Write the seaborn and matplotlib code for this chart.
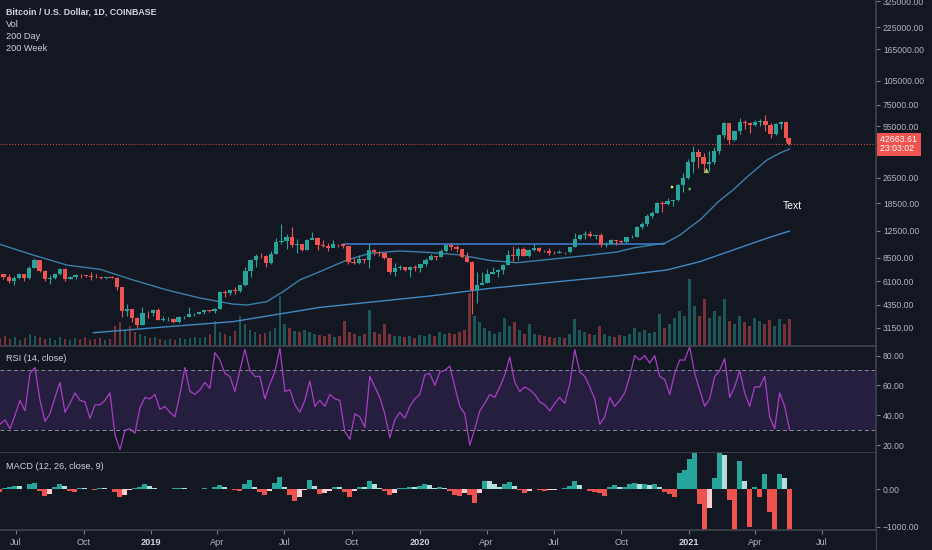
import numpy as np
import pandas as pd
import matplotlib
matplotlib.use("Agg")
import matplotlib.pyplot as plt
import matplotlib.dates as mdates
import matplotlib.transforms as mtransforms
from matplotlib.lines import Line2D
from matplotlib.ticker import FixedLocator, FuncFormatter, NullLocator, NullFormatter
import seaborn as sns

# ---- weekly BTC/USD candles (week close, high, low) ----
first_open = 7650
close_2018 = [6770, 6450, 6150, 6380, 6760, 6350, 7400, 8200, 7030, 6310, 6400, 6710, 7300, 6250, 6500,
              6700, 6620, 6600, 6470, 6450, 6350, 6450, 6370, 5580, 4000, 4100, 3600, 3250, 3900, 3860]
high_2018 = [7700, 6800, 6750, 6550, 6820, 6780, 7570, 8500, 8250, 7150, 6620, 6800, 7400, 7400, 6600,
             6800, 6800, 6700, 6900, 6750, 6500, 6500, 6550, 6450, 5620, 4400, 4100, 3650, 4200, 4000]
low_2018 = [6650, 6300, 5900, 5780, 6330, 6100, 6330, 7350, 6950, 6120, 5880, 6300, 6700, 6150, 6250,
            6300, 6400, 6450, 6200, 6400, 6300, 6300, 6350, 5350, 3650, 3700, 3400, 3150, 3250, 3600]

close_2019 = [4050, 3520, 3540, 3550, 3410, 3660, 3680, 3800, 3820, 3930, 4030, 4000, 4100, 5200, 5150,
              5350, 5280, 5750, 7000, 8200, 8750, 8730, 7950, 8990, 10700, 10800, 11400, 10200, 10300,
              9500, 11000, 11300, 10200, 10100, 9750, 10400, 10300, 10000, 8050, 7850, 8300, 8200, 9550,
              9200, 9050, 8500, 6900, 7400, 7500, 7100, 7500, 7400]
high_2019 = [4100, 4180, 3700, 3650, 3600, 3700, 3700, 4200, 3880, 3950, 4060, 4050, 4150, 5300, 5400,
             5400, 5650, 5800, 7450, 8350, 8950, 9100, 8850, 9300, 11200, 13800, 12000, 13200, 11100,
             10200, 11100, 12300, 11400, 10900, 10500, 10900, 10400, 10300, 10000, 8450, 8800, 8400, 10400,
             9600, 9400, 9100, 8500, 7850, 7700, 7400, 7550, 7700]
low_2019 = [3700, 3500, 3460, 3450, 3350, 3380, 3580, 3680, 3700, 3800, 3850, 3950, 3900, 4100, 4900,
            5000, 5050, 5200, 5700, 6500, 7500, 8500, 7450, 7800, 8950, 10350, 9600, 9900, 9100,
            9400, 9500, 11100, 9500, 9900, 9300, 10000, 9900, 9800, 7750, 7800, 7800, 7900, 7350,
            8900, 8700, 8400, 6800, 6550, 7100, 7000, 6450, 7050]

close_2020 = [7750, 8200, 8700, 8600, 9350, 10150, 9900, 9700, 8550, 8050, 5350, 5800, 5900, 6780, 6900,
              7120, 7700, 8900, 8750, 9700, 8720, 9450, 9750, 9350, 9300, 9120, 9070, 9250, 9200, 9930,
              11100, 11700, 11900, 11650, 11700, 10250, 10330, 10950, 10800, 10700, 11400, 11500, 13100,
              13750, 15500, 16000, 18400, 18200, 19100, 19250, 23900, 26300]
high_2020 = [7800, 8450, 9000, 8750, 9600, 10200, 10500, 10200, 9700, 9200, 8150, 6900, 6950, 7200, 7450,
             7300, 7750, 9450, 10000, 9950, 9850, 9600, 10400, 9950, 9550, 9800, 9300, 9450, 9250, 9950,
             12100, 11900, 12500, 12400, 11750, 12050, 10600, 11100, 10950, 10950, 11450, 11750, 13350,
             14100, 15950, 16500, 18800, 18950, 19900, 19400, 24200, 28400]
low_2020 = [6900, 7600, 8250, 8250, 8550, 9200, 9450, 9250, 8450, 8000, 3850, 4450, 5850, 5900, 6800,
            6500, 6800, 7650, 8100, 8200, 8700, 8650, 9300, 9200, 9200, 8900, 8950, 9100, 9000, 9150,
            9900, 10950, 11150, 11350, 11100, 9900, 9900, 10300, 10150, 10350, 10550, 11250, 11400,
            12850, 13300, 15000, 16000, 16250, 18100, 17700, 19100, 21800]

close_2021 = [33000, 38200, 35800, 32300, 33100, 38900, 48600, 57400, 45200, 51200, 59000, 57400, 55800,
              58200, 59800, 56200, 49100, 56600, 58300, 46400, 42663.61]
high_2021 = [34800, 41950, 40100, 37850, 38600, 40900, 49700, 58350, 57500, 52600, 61700, 60600, 58400,
             60100, 61300, 64900, 57500, 58000, 59500, 59600, 46600]
low_2021 = [26000, 28200, 30400, 28800, 29200, 32300, 37400, 47000, 43000, 44950, 49300, 53300, 50300,
            55500, 55500, 51500, 47000, 48800, 53000, 43800, 42100]

candle_dates = list(pd.date_range("2018-06-07", "2021-05-13", freq="7D")) + [pd.Timestamp("2021-05-17 12:00")]
closes = close_2018 + close_2019 + close_2020 + close_2021
highs = high_2018 + high_2019 + high_2020 + high_2021
lows = low_2018 + low_2019 + low_2020 + low_2021

# ---- moving averages ----
ma200d_dates = ["2018-06-09", "2018-07-24", "2018-09-08", "2018-10-23", "2018-12-07", "2019-01-22",
                "2019-03-08", "2019-04-22", "2019-05-11", "2019-06-07", "2019-06-29", "2019-07-22",
                "2019-08-18", "2019-09-24", "2019-10-25", "2019-12-05", "2020-01-19", "2020-02-25",
                "2020-04-06", "2020-05-12", "2020-06-26", "2020-08-10", "2020-09-25", "2020-10-17",
                "2020-11-30", "2020-12-20", "2021-01-03", "2021-01-16", "2021-01-30", "2021-02-08",
                "2021-03-02", "2021-03-21", "2021-04-17", "2021-05-05", "2021-05-18"]
ma200d = [10300, 8850, 7670, 7220, 6210, 5380, 4800, 4400, 4345, 4560, 5250, 6210, 6980, 8240, 9060,
          9370, 9140, 8850, 8180, 7930, 8320, 8730, 9230, 9770, 10500, 11750, 13180, 14560, 16790,
          18550, 22300, 26800, 34100, 37760, 39900]
ma200w_dates = ["2018-10-14", "2019-01-22", "2019-04-22", "2019-08-18", "2020-01-15", "2020-04-06",
                "2020-09-29", "2020-12-02", "2021-01-16", "2021-03-02", "2021-04-17", "2021-05-18"]
ma200w = [2930, 3190, 3430, 4200, 4940, 5510, 6600, 7150, 8050, 9500, 11220, 12450]

resist_level = 10300
resist_from, resist_to = "2019-09-18", "2020-11-30"

# ---- indicators sampled about once a week ----
rsi = [34, 37, 31, 40, 50, 43, 68, 72, 50, 36, 41, 52, 62, 42, 48, 55, 50, 49, 38, 47, 47, 50, 55, 27,
       17, 30, 31, 28, 45, 52, 51, 54, 44, 46, 42, 39, 54, 72, 56, 54, 57, 62, 58, 82, 77, 68, 66, 56,
       70, 84, 70, 66, 66, 51, 61, 69, 85, 56, 57, 47, 42, 50, 63, 46, 50, 46, 54, 51, 50, 29, 24, 41,
       39, 32, 66, 59, 52, 41, 25, 37, 42, 38, 46, 51, 54, 67, 68, 60, 69, 70, 73, 59, 46, 41, 20, 31,
       43, 48, 54, 52, 59, 67, 79, 62, 56, 59, 57, 54, 49, 47, 43, 48, 52, 48, 61, 84, 69, 66, 59, 51,
       34, 39, 52, 46, 50, 55, 66, 80, 77, 80, 75, 80, 66, 64, 54, 68, 77, 77, 86, 68, 57, 46, 51, 66,
       70, 78, 52, 59, 70, 55, 46, 59, 59, 66, 39, 31, 55, 46, 30]
macd_hist = [-70, 20, 60, 90, 70, 10, 120, 150, -60, -190, -120, 50, 130, 70, -40, -80, 30, 20, 5, -20,
             20, 20, 10, -80, -200, -150, -20, 30, 60, 140, 80, 30, -10, -10, 5, 20, 30, 20, 5, -10, 10,
             20, 10, 40, 100, 40, -10, -30, -50, 120, 230, 60, -80, -160, -60, 150, 320, 50, -150, -330,
             -200, -20, 240, 80, -120, -100, -60, 60, 40, -80, -200, -60, 60, 50, 200, 130, 30, -60, -160,
             -100, 20, 30, 60, 40, 80, 120, 110, 30, 40, 20, -50, -150, -180, -100, -150, -360, -100, 200,
             200, 120, 60, 120, 180, 80, -30, -100, -40, -10, -30, -40, -30, -20, 10, 20, 80, 210, 100,
             -10, -60, -80, -100, -190, 60, 100, 40, 60, 120, 170, 120, 130, 100, 130, 60, -80, -130, -220,
             420, 500, 800, 1100, -400, -1200, -500, 300, 1100, 900, -300, -1200, 750, 200, -1000, 60, -200,
             400, -600, -1200, 400, 300, -1200]
volume = [8, 10, 7, 9, 6, 8, 12, 10, 9, 7, 8, 6, 9, 7, 6, 8, 7, 9, 6, 7, 8, 6, 7,
          20, 24, 16, 20, 14, 12,
          10, 8, 9, 7, 6, 7, 6, 8, 7, 8, 9, 8, 9, 12,
          25, 14, 12, 10, 15, 30, 22, 16, 14, 12, 13, 15, 18, 50,
          22, 18, 15, 14, 16, 14, 12, 11, 10, 12, 9, 10,
          25, 14, 12, 10, 12, 36, 14, 12, 22, 12, 10, 10,
          9, 10, 8, 11, 10, 12, 10, 14, 12, 13, 12, 14, 16,
          53, 30, 24, 18, 15, 12, 14, 28, 20, 24, 16, 12, 22,
          12, 11, 10, 9, 8, 9, 8, 12, 27, 16, 14, 12, 11, 20,
          12, 10, 9, 11, 10, 12, 18, 14, 16, 13, 14, 32,
          18, 22, 28, 35, 30, 67, 40, 30, 47, 28, 35, 30, 47, 25,
          22, 30, 24, 20, 28, 25, 22, 26, 20, 27, 22, 27]
ind_dates = pd.date_range("2018-06-09 06:00", "2021-05-18", periods=len(rsi))

# drawing marks left on the chart
mark_dates = ["2020-12-09", "2021-01-02"]
mark_prices = [23250, 22600]
mark_colors = ["#e3d34a", "#4caf50"]
tri_date, tri_price = "2021-01-24", 29600
note_date, note_price = "2021-05-09", 17750

price_ticks = [3150, 4350, 6100, 8500, 12500, 18500, 26500, 55000, 75000, 105000, 165000, 225000, 325000]
tick_dates = ["2018-07-01", "2018-10-01", "2019-01-01", "2019-04-01", "2019-07-01", "2019-10-01",
              "2020-01-01", "2020-04-01", "2020-07-01", "2020-10-01", "2021-01-01", "2021-04-01",
              "2021-07-01"]
tick_labels = ["Jul", "Oct", "2019", "Apr", "Jul", "Oct", "2020", "Apr", "Jul", "Oct", "2021", "Apr", "Jul"]

# ---- style ----
BG = "#131722"
SEP = "#3d414c"
LBL = "#b2b5be"
TXT = "#d1d4dc"
UP, DOWN = "#26a69a", "#ef5350"

sns.set_theme(style="dark", rc={"axes.facecolor": BG, "figure.facecolor": BG,
                                "savefig.facecolor": BG, "axes.grid": False})
plt.rcParams["font.family"] = ["Liberation Sans", "DejaVu Sans"]

fig = plt.figure(figsize=(9.32, 5.5), dpi=100)
W = 876 / 932
H = 550.0
ax_v = fig.add_axes([0, 1 - 345.5 / H, W, 345.5 / H])
ax = fig.add_axes([0, 1 - 345.5 / H, W, 345.5 / H], sharex=ax_v)
ax_r = fig.add_axes([0, 1 - 453 / H, W, 107.5 / H], sharex=ax_v)
ax_m = fig.add_axes([0, 1 - 529.5 / H, W, 76.5 / H], sharex=ax_v)
ax_v.set_zorder(0)
ax.set_zorder(1)
ax.patch.set_visible(False)

xc = mdates.date2num(candle_dates)
o = np.array([first_open] + closes[:-1], dtype=float)
c = np.array(closes, dtype=float)
h = np.array(highs, dtype=float)
l = np.array(lows, dtype=float)
ccol = np.where(c >= o, UP, DOWN)

# volume overlay
xi = mdates.date2num(ind_dates)
step = xi[1] - xi[0]
week_idx = np.clip(np.searchsorted(xc + 3.5, xi), 0, len(c) - 1)
vcol = np.where(c[week_idx] >= o[week_idx], UP, DOWN)
ax_v.bar(xi, volume, width=step * 0.55, color=vcol, alpha=0.45, linewidth=0)
ax_v.set_ylim(0, 345.5)

# price
ax.set_yscale("log")
ax.vlines(xc, l, h, colors=ccol, lw=0.8, zorder=3)
ax.bar(xc, np.abs(c - o), bottom=np.minimum(o, c), width=5.8, color=ccol, linewidth=0, zorder=4)
sns.lineplot(x=mdates.date2num(pd.to_datetime(ma200d_dates)), y=ma200d, ax=ax, color="#3b7fa8", lw=1.0, zorder=2)
sns.lineplot(x=mdates.date2num(pd.to_datetime(ma200w_dates)), y=ma200w, ax=ax, color="#4189c2", lw=1.0, zorder=2)
ax.hlines(resist_level, mdates.date2num(pd.Timestamp(resist_from)), mdates.date2num(pd.Timestamp(resist_to)),
          color="#3f82d2", lw=1.1, zorder=2)
ax.axhline(c[-1], color=DOWN, lw=0.7, ls=(0, (1, 2)), zorder=1)
ax.scatter(mdates.date2num(pd.to_datetime(mark_dates)), mark_prices, s=4, c=mark_colors, zorder=5, linewidths=0)
ax.scatter([mdates.date2num(pd.Timestamp(tri_date))], [tri_price], s=14, marker="^", c="#9ccc65", zorder=5, linewidths=0)
ax.text(mdates.date2num(pd.Timestamp(note_date)), note_price, "Text", color="white", fontsize=7.5, va="center")

ax.set_ylim(2444, 331900)
ax.yaxis.set_major_locator(FixedLocator(price_ticks))
ax.yaxis.set_minor_locator(NullLocator())
ax.yaxis.set_minor_formatter(NullFormatter())
ax.yaxis.set_major_formatter(FuncFormatter(lambda v, p: f"{v:.2f}"))

trans = mtransforms.blended_transform_factory(ax.transAxes, ax.transData)
ax.text(1.004, c[-1], f"{c[-1]:.2f} \n23:03:02 ", transform=trans, ha="left", va="center",
        color="white", fontsize=6.3, linespacing=1.05, clip_on=False, zorder=10,
        bbox=dict(boxstyle="square,pad=0.28", fc=DOWN, ec="none"))

ax.text(6 / 876, 1 - 12 / 345.5, "Bitcoin / U.S. Dollar, 1D, COINBASE", transform=ax.transAxes,
        color=TXT, fontsize=6.4, fontweight="bold", va="center")
for i, name in enumerate(["Vol", "200 Day", "200 Week"]):
    ax.text(6 / 876, 1 - (24.3 + 12.3 * i) / 345.5, name, transform=ax.transAxes,
            color=TXT, fontsize=6.6, va="center")

# RSI
ax_r.axhspan(30, 70, color="#7e3fbf", alpha=0.18, lw=0)
for lev in (70, 30):
    ax_r.axhline(lev, color="#8a8d98", lw=0.7, dashes=(4, 3))
sns.lineplot(x=xi, y=rsi, ax=ax_r, color="#a73fc4", lw=0.9)
ax_r.set_ylim(14.8, 86.7)
ax_r.yaxis.set_major_locator(FixedLocator([20, 40, 60, 80]))
ax_r.yaxis.set_major_formatter(FuncFormatter(lambda v, p: f"{v:.2f}"))
ax_r.text(6 / 876, 0.88, "RSI (14, close)", transform=ax_r.transAxes, color=TXT, fontsize=6.6, va="center")

# MACD histogram
hist = np.array(macd_hist, dtype=float)
prev = np.concatenate([[0.0], hist[:-1]])
hcol = np.where(hist >= 0, np.where(hist > prev, UP, "#b2dfdb"), np.where(hist > prev, "#ffcdd2", DOWN))
ax_m.bar(xi, hist, width=step, color=hcol, linewidth=0)
ax_m.set_ylim(-1074, 955)
ax_m.yaxis.set_major_locator(FixedLocator([-1000, 0]))
ax_m.yaxis.set_major_formatter(FuncFormatter(lambda v, p: f"{v:.2f}".replace("-", "\u2212")))
ax_m.text(6 / 876, 0.83, "MACD (12, 26, close, 9)", transform=ax_m.transAxes, color=TXT, fontsize=6.6, va="center")

# axes cosmetics
ax_v.set_xlim(mdates.date2num(pd.Timestamp("2018-06-09 06:00")), mdates.date2num(pd.Timestamp("2021-09-12 10:00")))
ax_v.set_yticks([])
for a in (ax_v, ax, ax_r, ax_m):
    a.set_xlabel("")
    a.set_ylabel("")
    for s in a.spines.values():
        s.set_visible(False)
for a in (ax, ax_r, ax_m):
    a.spines["right"].set_visible(True)
    a.spines["right"].set_color(SEP)
    a.spines["bottom"].set_visible(True)
    a.spines["bottom"].set_color(SEP)
    a.yaxis.tick_right()
    a.tick_params(axis="y", which="major", right=True, left=False, labelright=True, labelleft=False,
                  length=3, width=0.8, color="#787b86", labelcolor=LBL, labelsize=6.2, pad=2)
for a in (ax_v, ax, ax_r):
    a.tick_params(axis="x", which="both", bottom=False, labelbottom=False)

ax_m.set_xticks(mdates.date2num(pd.to_datetime(tick_dates)))
ax_m.set_xticklabels(tick_labels)
ax_m.tick_params(axis="x", bottom=True, length=3, width=0.8, color="#787b86", labelcolor=LBL,
                 labelsize=6.6, pad=3)
for lbl in ax_m.get_xticklabels():
    if lbl.get_text().isdigit():
        lbl.set_fontweight("bold")
        lbl.set_color(TXT)

fig.add_artist(Line2D([W, W], [0, 1 - 529.5 / H], color=SEP, lw=1))

fig.savefig("out.png", dpi=100, facecolor=BG)
